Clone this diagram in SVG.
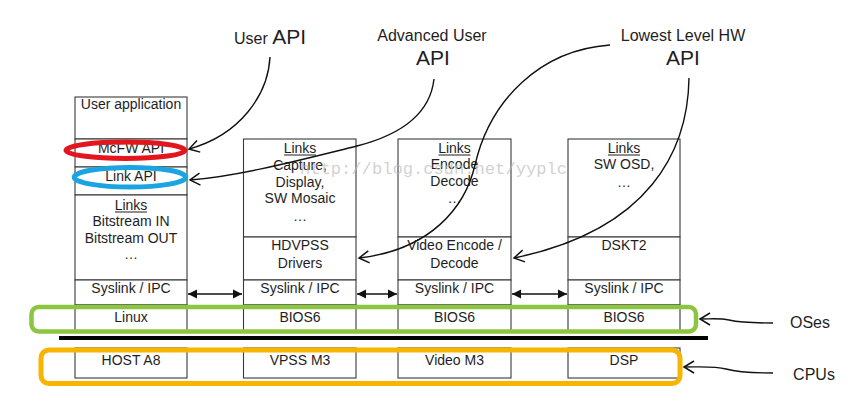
<svg xmlns="http://www.w3.org/2000/svg" width="848" height="404" viewBox="0 0 848 404">
<defs>
<style>
.cell{fill:#fff;stroke:#3a3a3a;stroke-width:1.1}
.t{font-family:"Liberation Sans",Arial,sans-serif;font-size:14px;fill:#1e1e1e;text-anchor:middle}
.lbl{font-family:"Liberation Sans",Arial,sans-serif;font-size:16px;fill:#1e1e1e;text-anchor:middle}
.big{font-size:21px}
.ul{stroke:#1e1e1e;stroke-width:1}
.curve{fill:none;stroke:#111;stroke-width:1.4;marker-end:url(#open)}
.dbl{fill:none;stroke:#111;stroke-width:1.6;marker-start:url(#fill);marker-end:url(#fill)}
</style>
<marker id="open" markerUnits="userSpaceOnUse" markerWidth="14" markerHeight="14" viewBox="-12 -7 14 14" refX="0" refY="0" orient="auto">
<path d="M-10,-6 L0,0 L-10,6" fill="none" stroke="#111" stroke-width="1.5"/>
</marker>
<marker id="fill" markerUnits="userSpaceOnUse" markerWidth="12" markerHeight="12" viewBox="-10 -6 12 12" refX="0" refY="0" orient="auto-start-reverse">
<path d="M-9,-4.5 L0,0 L-9,4.5 Z" fill="#111"/>
</marker>
</defs>
<rect width="848" height="404" fill="#fff"/>

<g id="col1">
<rect class="cell" x="75" y="97" width="112" height="42"/>
<rect class="cell" x="75" y="139" width="112" height="28"/>
<rect class="cell" x="75" y="167" width="112" height="28"/>
<rect class="cell" x="75" y="195" width="112" height="85"/>
<rect class="cell" x="75" y="280" width="112" height="25"/>
<rect class="cell" x="75" y="305" width="112" height="27"/>
<text class="t" x="131" y="109">User application</text>
<text class="t" x="131" y="153">McFW API</text>
<text class="t" x="131" y="181">Link API</text>
<text class="t" x="131" y="210">Links</text>
<line class="ul" x1="115" y1="212" x2="147" y2="212"/>
<text class="t" x="131" y="226">Bitstream IN</text>
<text class="t" x="131" y="243">Bitstream OUT</text>
<text class="t" x="131" y="259">…</text>
<text class="t" x="131" y="293">Syslink / IPC</text>
<text class="t" x="131" y="322">Linux</text>
</g>

<g id="col2">
<rect class="cell" x="243.5" y="139" width="112.5" height="98"/>
<rect class="cell" x="243.5" y="237" width="112.5" height="43"/>
<rect class="cell" x="243.5" y="280" width="112.5" height="25"/>
<rect class="cell" x="243.5" y="305" width="112.5" height="27"/>
<text class="t" x="300" y="153">Links</text>
<line class="ul" x1="284" y1="155" x2="316" y2="155"/>
<text class="t" x="300" y="170">Capture,</text>
<text class="t" x="300" y="187">Display,</text>
<text class="t" x="300" y="203">SW Mosaic</text>
<text class="t" x="300" y="221">…</text>
<text class="t" x="300" y="250">HDVPSS</text>
<text class="t" x="300" y="268">Drivers</text>
<text class="t" x="300" y="293">Syslink / IPC</text>
<text class="t" x="300" y="322">BIOS6</text>
</g>

<g id="col3">
<rect class="cell" x="398" y="139" width="113" height="98"/>
<rect class="cell" x="398" y="237" width="113" height="43"/>
<rect class="cell" x="398" y="280" width="113" height="25"/>
<rect class="cell" x="398" y="305" width="113" height="27"/>
<text class="t" x="454.5" y="153">Links</text>
<line class="ul" x1="438.5" y1="155" x2="470.5" y2="155"/>
<text class="t" x="454.5" y="169">Encode</text>
<text class="t" x="454.5" y="186">Decode</text>
<text class="t" x="454.5" y="203">…</text>
<text class="t" x="454.5" y="250">Video Encode /</text>
<text class="t" x="454.5" y="268">Decode</text>
<text class="t" x="454.5" y="293">Syslink / IPC</text>
<text class="t" x="454.5" y="322">BIOS6</text>
</g>

<g id="col4">
<rect class="cell" x="568" y="139" width="112" height="98"/>
<rect class="cell" x="568" y="237" width="112" height="43"/>
<rect class="cell" x="568" y="280" width="112" height="25"/>
<rect class="cell" x="568" y="305" width="112" height="27"/>
<text class="t" x="624" y="153">Links</text>
<line class="ul" x1="608" y1="155" x2="640" y2="155"/>
<text class="t" x="624" y="169">SW OSD,</text>
<text class="t" x="624" y="187">…</text>
<text class="t" x="624" y="250">DSKT2</text>
<text class="t" x="624" y="293">Syslink / IPC</text>
<text class="t" x="624" y="322">BIOS6</text>
</g>

<g id="cpus">
<rect class="cell" x="75" y="348" width="112" height="30"/>
<rect class="cell" x="243.5" y="348" width="112.5" height="30"/>
<rect class="cell" x="398" y="348" width="113" height="30"/>
<rect class="cell" x="568" y="348" width="112" height="30"/>
<text class="t" x="131" y="365">HOST A8</text>
<text class="t" x="300" y="365">VPSS M3</text>
<text class="t" x="454.5" y="365">Video M3</text>
<text class="t" x="624" y="365">DSP</text>
</g>

<rect id="bar" x="59" y="336" width="649" height="4" fill="#000"/>

<g id="highlights" fill="none">
<rect x="31.5" y="307" width="664.5" height="24.5" rx="7" stroke="#8cc641" stroke-width="4.5"/>
<rect x="41" y="350" width="639" height="33.5" rx="8" stroke="#f7b500" stroke-width="5"/>
<ellipse cx="125.5" cy="150.3" rx="59.5" ry="8.2" stroke="#e3161d" stroke-width="5"/>
<ellipse cx="130" cy="177.2" rx="55.8" ry="9.8" stroke="#1ba4e2" stroke-width="5"/>
</g>

<text x="300" y="174" font-family="Liberation Mono,monospace" font-size="16" fill="#bdbdbd" fill-opacity="0.7" textLength="267" lengthAdjust="spacingAndGlyphs">http://blog.csdn.net/yyplc</text>

<g id="labels">
<text class="lbl" x="270" y="44"><tspan>User </tspan><tspan class="big">API</tspan></text>
<text class="lbl" x="432" y="41">Advanced User</text>
<text class="lbl big" x="433" y="65">API</text>
<text class="lbl" x="683" y="41">Lowest Level HW</text>
<text class="lbl big" x="683" y="65">API</text>
<text class="lbl" x="810" y="328">OSes</text>
<text class="lbl" x="814" y="380">CPUs</text>
</g>

<g id="connectors">
<path class="curve" d="M270,57 C268,95 240,135 189,149"/>
<path class="curve" d="M434,79 C430,115 400,135 357,146 C300,160 240,176 190,180"/>
<path class="curve" d="M610,45 C540,50 490,100 475,165 C465,208 430,250 359,258"/>
<path class="curve" d="M689,78 C688,150 650,230 514,258"/>
<path class="curve" d="M773,323 C752,323 738,322 729,320 C720,318 712,319 700,319"/>
<path class="curve" d="M773,373 C752,373 737,372 726,369 C715,366 700,367 684,367"/>
<path class="dbl" d="M188,294 L242,294"/>
<path class="dbl" d="M357,294 L397,294"/>
<path class="dbl" d="M512,294 L567,294"/>
</g>
</svg>
